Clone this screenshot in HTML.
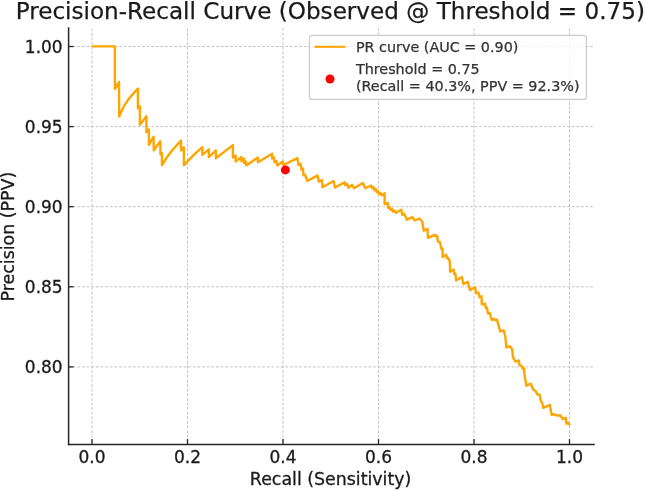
<!DOCTYPE html>
<html><head><meta charset="utf-8"><title>Precision-Recall Curve</title>
<style>
html,body{margin:0;padding:0;background:#fff;}
body{width:645px;height:491px;overflow:hidden;}
svg{display:block;font-family:"DejaVu Sans", "Liberation Sans", sans-serif;}
.tick{font-size:17.0px;fill:#1a1a1a;stroke:#1a1a1a;stroke-width:0.3px;}
.lab{font-size:17.4px;fill:#1a1a1a;stroke:#1a1a1a;stroke-width:0.3px;}
.title{font-size:23.1px;fill:#1a1a1a;stroke:#1a1a1a;stroke-width:0.25px;}
.leg{font-size:14.35px;fill:#333;stroke:#333;stroke-width:0.25px;}
.grid{stroke:#c2c2c2;stroke-width:0.95;stroke-dasharray:2.9 1.72;fill:none;}
.gv{stroke-dashoffset:2.3;}
.spine{stroke:#262626;stroke-width:1.5;fill:none;stroke-linecap:square;}
.tk{stroke:#262626;stroke-width:1.3;fill:none;}
</style></head><body>
<svg width="645" height="491" viewBox="0 0 645 491">
<rect width="645" height="491" fill="#ffffff"/>

<line class="grid gv" x1="92.0" y1="444.6" x2="92.0" y2="28.1"/>
<line class="grid gv" x1="187.5" y1="444.6" x2="187.5" y2="28.1"/>
<line class="grid gv" x1="283.0" y1="444.6" x2="283.0" y2="28.1"/>
<line class="grid gv" x1="378.5" y1="444.6" x2="378.5" y2="28.1"/>
<line class="grid gv" x1="474.0" y1="444.6" x2="474.0" y2="28.1"/>
<line class="grid gv" x1="569.5" y1="444.6" x2="569.5" y2="28.1"/>
<line class="grid" x1="68.1" y1="46.5" x2="593.4" y2="46.5"/>
<line class="grid" x1="68.1" y1="126.6" x2="593.4" y2="126.6"/>
<line class="grid" x1="68.1" y1="206.7" x2="593.4" y2="206.7"/>
<line class="grid" x1="68.1" y1="286.8" x2="593.4" y2="286.8"/>
<line class="grid" x1="68.1" y1="366.9" x2="593.4" y2="366.9"/>
<path d="M91.9,46.4 L114.9,46.4 L114.9,88.9 L119.0,81.9 L119.2,116.6 L121.9,110.3 L124.8,104.8 L127.9,100.2 L131.1,96.1 L134.5,92.1 L137.9,88.6 L137.9,108.3 L139.9,106.4 L139.9,124.8 L146.4,116.2 L146.4,132.3 L148.9,129.5 L148.9,144.8 L153.6,136.7 L153.8,150.3 L160.3,141.2 L160.5,154.4 L161.9,153.0 L162.0,165.0 L166.4,158.0 L171.0,151.8 L176.0,146.0 L181.0,140.6 L181.1,150.4 L183.8,147.3 L183.9,165.3 L193.0,155.6 L202.3,147.1 L202.3,154.8 L208.8,149.4 L208.8,157.1 L215.9,150.5 L215.9,158.3 L232.9,145.1 L232.9,157.5 L235.6,155.4 L235.6,161.6 L241.4,157.0 L241.4,161.2 L244.0,158.7 L244.0,163.0 L246.0,161.5 L246.3,165.4 L257.9,157.5 L257.9,162.3 L272.2,153.8 L272.2,158.5 L274.1,157.5 L274.4,162.3 L276.6,161.0 L277.2,165.4 L282.8,161.6 L283.4,165.0 L297.4,158.1 L298.5,165.0 L300.6,163.8 L301.5,169.7 L303.0,168.6 L303.4,175.4 L304.9,174.5 L307.4,181.0 L317.6,175.4 L318.8,181.6 L322.0,180.0 L322.5,187.2 L333.5,181.0 L335.0,187.5 L344.7,182.2 L345.3,185.3 L347.4,184.1 L348.4,187.8 L352.1,185.0 L354.0,188.2 L362.9,183.0 L365.4,188.2 L371.1,185.5 L372.0,188.0 L373.5,187.0 L374.3,190.0 L375.8,189.0 L376.6,192.0 L378.1,191.0 L378.9,194.0 L380.4,193.0 L381.7,195.4 L384.6,193.3 L384.6,204.1 L387.9,202.9 L387.9,207.8 L389.5,206.9 L390.3,209.7 L392.0,208.8 L392.8,211.6 L394.5,210.7 L396.0,212.8 L401.4,209.7 L402.2,214.7 L404.1,213.7 L407.0,219.8 L412.4,217.1 L414.8,220.5 L419.4,218.5 L422.3,221.7 L423.8,230.8 L427.5,228.8 L427.9,237.9 L434.8,234.8 L436.0,236.3 L437.2,235.8 L437.9,241.6 L440.0,242.2 L441.4,249.0 L442.6,248.6 L442.6,257.0 L446.2,254.8 L447.2,258.5 L448.5,258.0 L449.9,262.4 L450.1,271.7 L453.6,269.6 L454.2,274.0 L455.4,273.5 L456.1,280.4 L462.0,277.0 L463.3,284.1 L467.7,281.7 L470.0,290.1 L475.0,287.3 L476.2,293.2 L478.4,292.6 L479.5,297.3 L481.5,296.2 L481.8,304.2 L484.9,303.6 L485.8,308.0 L486.8,307.6 L488.0,313.5 L489.8,313.0 L491.7,319.8 L494.0,318.8 L495.5,320.3 L497.0,319.6 L500.2,331.4 L503.7,330.4 L505.3,336.5 L506.4,347.4 L509.9,346.1 L512.1,349.2 L513.0,357.3 L515.5,361.6 L518.8,360.4 L519.6,365.4 L521.7,366.0 L522.5,368.5 L523.8,367.9 L524.9,377.5 L526.5,385.7 L530.8,383.7 L533.0,389.3 L535.5,391.1 L537.6,394.6 L539.6,394.8 L540.8,401.1 L542.3,402.9 L543.3,407.9 L549.8,404.8 L551.6,414.7 L554.5,414.3 L557.0,415.6 L560.3,415.3 L562.8,419.1 L565.7,417.8 L566.5,423.7 L568.1,422.8 L570.0,425.3" fill="none" stroke="#ffa500" stroke-width="2.4" stroke-linejoin="round" stroke-linecap="butt"/>
<circle cx="285.4" cy="169.9" r="4.5" fill="#ff0000"/>
<line class="spine" x1="68.6" y1="28.1" x2="68.6" y2="444.6"/>
<line class="spine" x1="68.6" y1="444.6" x2="594.0" y2="444.6"/>
<line class="tk" x1="92.0" y1="444.6" x2="92.0" y2="439.1"/>
<text class="tick" x="92.0" y="462.7" text-anchor="middle">0.0</text>
<line class="tk" x1="187.5" y1="444.6" x2="187.5" y2="439.1"/>
<text class="tick" x="187.5" y="462.7" text-anchor="middle">0.2</text>
<line class="tk" x1="283.0" y1="444.6" x2="283.0" y2="439.1"/>
<text class="tick" x="283.0" y="462.7" text-anchor="middle">0.4</text>
<line class="tk" x1="378.5" y1="444.6" x2="378.5" y2="439.1"/>
<text class="tick" x="378.5" y="462.7" text-anchor="middle">0.6</text>
<line class="tk" x1="474.0" y1="444.6" x2="474.0" y2="439.1"/>
<text class="tick" x="474.0" y="462.7" text-anchor="middle">0.8</text>
<line class="tk" x1="569.5" y1="444.6" x2="569.5" y2="439.1"/>
<text class="tick" x="569.5" y="462.7" text-anchor="middle">1.0</text>
<line class="tk" x1="68.1" y1="46.5" x2="73.6" y2="46.5"/>
<text class="tick" x="62.7" y="53.0" text-anchor="end">1.00</text>
<line class="tk" x1="68.1" y1="126.6" x2="73.6" y2="126.6"/>
<text class="tick" x="62.7" y="133.1" text-anchor="end">0.95</text>
<line class="tk" x1="68.1" y1="206.7" x2="73.6" y2="206.7"/>
<text class="tick" x="62.7" y="213.2" text-anchor="end">0.90</text>
<line class="tk" x1="68.1" y1="286.8" x2="73.6" y2="286.8"/>
<text class="tick" x="62.7" y="293.3" text-anchor="end">0.85</text>
<line class="tk" x1="68.1" y1="366.9" x2="73.6" y2="366.9"/>
<text class="tick" x="62.7" y="373.4" text-anchor="end">0.80</text>
<text class="lab" x="330.6" y="485.2" text-anchor="middle" style="font-size:17px" textLength="161.5" lengthAdjust="spacingAndGlyphs">Recall (Sensitivity)</text>
<text class="lab" transform="translate(14.3,236.6) rotate(-90)" text-anchor="middle">Precision (PPV)</text>
<text class="title" x="330.3" y="18.8" text-anchor="middle">Precision-Recall Curve (Observed @ Threshold = 0.75)</text>
<rect x="309.4" y="35.4" width="277" height="64" rx="3" ry="3" fill="#ffffff" fill-opacity="0.8" stroke="#cccccc" stroke-width="1.2"/>
<line x1="314.4" y1="46.8" x2="345.4" y2="46.8" stroke="#ffa500" stroke-width="2.1"/>
<circle cx="330" cy="79.0" r="4.5" fill="#ff0000"/>
<text class="leg" x="355.9" y="52.3">PR curve (AUC = 0.90)</text>
<text class="leg" x="355.9" y="73.5">Threshold = 0.75</text>
<text class="leg" x="355.9" y="90.5">(Recall = 40.3%, PPV = 92.3%)</text>
</svg></body></html>
